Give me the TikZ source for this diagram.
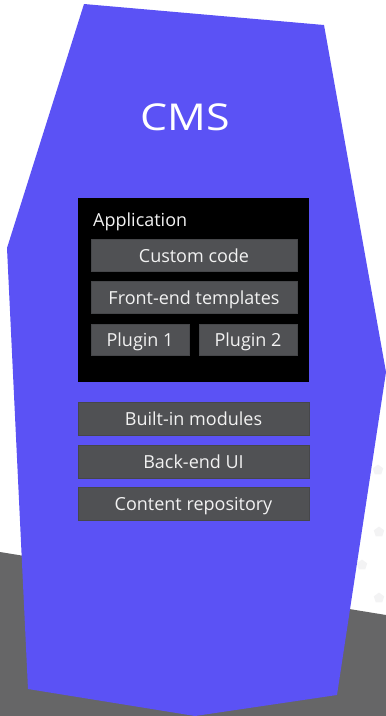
\documentclass[tikz,border=0pt]{standalone}
\usepackage{fontspec}
\setmainfont{Open Sans}
\newfontfamily\cmsfont{Open Sans}[FakeStretch=1.16]
\usetikzlibrary{shapes.geometric}
\definecolor{cmspurple}{HTML}{5B52F5}
\definecolor{ground}{HTML}{666667}
\definecolor{boxfill}{HTML}{505154}
\definecolor{boxline}{HTML}{46474A}
\definecolor{txt}{HTML}{F2F2F2}
\definecolor{faint}{HTML}{F3F3F4}
\tikzset{
  modbox/.style={rectangle, fill=boxfill, draw=boxline, line width=0.6pt,
    text=txt, font=\fontsize{18}{20}\selectfont, inner sep=0pt,
    text height=13pt, text depth=0pt},
  appbox/.style={rectangle, fill=black, inner sep=0pt},
  dot/.style={regular polygon, regular polygon sides=5, fill=faint, inner sep=0pt, minimum size=11pt}
}
\begin{document}
\begin{tikzpicture}[x=1pt,y=-1pt]
\useasboundingbox (0,0) rectangle (386,716);
% ground
\fill[ground] (0,552) -- (386,615) -- (386,716) -- (0,716) -- cycle;
% faint pentagons
\node[dot] (p0) at (378,470) {};
\node[dot] (p1) at (379,532) {};
\node[dot] (p2) at (362,565) {};
\node[dot] (p3) at (379,598) {};
% CMS shape
\fill[cmspurple] (84,4) -- (324,25) -- (386,372) -- (337,695) -- (195,716) -- (28,689) -- (7,248) -- cycle;
\node[anchor=base, text=white, font=\cmsfont\fontsize{37}{40}\selectfont] (cms) at (185,130) {CMS};
% application
\node[appbox, minimum width=231pt, minimum height=184pt] (app) at (193.5,290) {};
\node[anchor=base west, text=txt, font=\fontsize{18}{20}\selectfont, inner sep=0pt] (applabel) at (93,226) {Application};
\node[modbox, minimum width=206pt, minimum height=32pt] (custom) at (194,255.5) {Custom code};
\node[modbox, minimum width=206pt, minimum height=32pt] (front) at (194,297.5) {Front-end templates};
\node[modbox, minimum width=98pt, minimum height=31pt] (plug1) at (140,339.5) {Plugin 1};
\node[modbox, minimum width=98pt, minimum height=31pt] (plug2) at (248,339.5) {Plugin 2};
% core modules
\node[modbox, minimum width=231pt, minimum height=33pt] (builtin) at (193.5,418.5) {Built-in modules};
\node[modbox, minimum width=231pt, minimum height=33pt] (backend) at (193.5,461.5) {Back-end UI};
\node[modbox, minimum width=231pt, minimum height=33pt] (repo) at (193.5,503.5) {Content repository};
\end{tikzpicture}
\end{document}
